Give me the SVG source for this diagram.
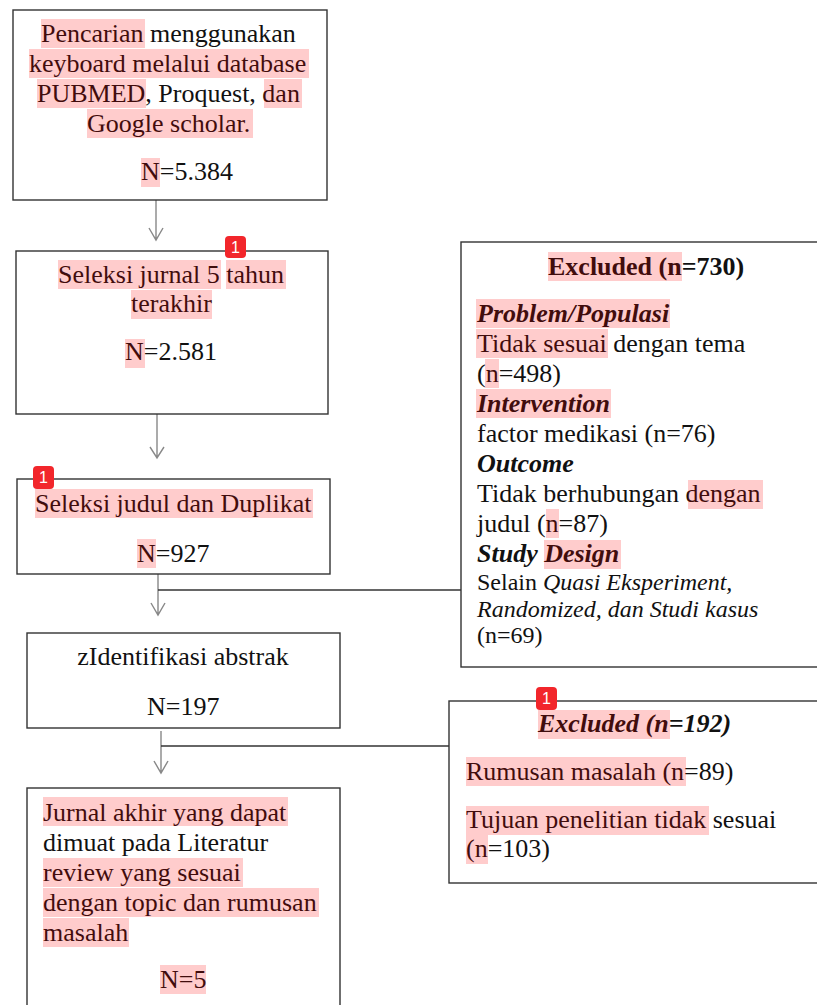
<svg xmlns="http://www.w3.org/2000/svg" width="817" height="1005" viewBox="0 0 817 1005">
<style>
.box{fill:#fff;stroke:#333;stroke-width:1.4}
.t{font-family:"Liberation Serif","Times New Roman",serif;font-size:26px;fill:#111}
.s{font-size:24px}
.b{font-weight:bold}
.i{font-style:italic}
.c{text-anchor:middle}
.hl{fill:#ff0000;fill-opacity:0.2}
.arr{fill:none;stroke:#888;stroke-width:1.4}
.hz{fill:none;stroke:#333;stroke-width:1.4}
.badge{fill:#f2262b}
.bt{font-family:"Liberation Sans",Arial,sans-serif;font-size:16px;fill:#fff;text-anchor:middle}
</style>
<g id="connectors">
<path class="arr" d="M156,200V240M149,228L156,240L163,228"/>
<path class="arr" d="M157,414V458M150,447L157,458L164,447"/>
<path class="arr" d="M158,574V615M151,603L158,615L165,603"/>
<path class="hz" d="M158,590H461"/>
<path class="arr" d="M161,731V773M154,761L161,773L168,761"/>
<path class="hz" d="M161,746H449"/>
</g>
<g id="node-search">
<rect class="box" x="13" y="10" width="314" height="190"/>
<text class="t" x="41" y="42">Pencarian menggunakan</text>
<text class="t" x="29" y="72">keyboard melalui database</text>
<text class="t" x="37" y="102">PUBMED, Proquest, dan</text>
<text class="t" x="87" y="132">Google scholar.</text>
<text class="t" x="141" y="180">N=5.384</text>
<rect class="hl" x="41" y="19" width="104" height="29"/>
<rect class="hl" x="29" y="49" width="280" height="29"/>
<rect class="hl" x="37" y="79" width="109" height="29"/>
<rect class="hl" x="264" y="79" width="38" height="29"/>
<rect class="hl" x="87" y="109" width="166" height="29"/>
<rect class="hl" x="141" y="158" width="19" height="29"/>
</g>
<g id="node-year">
<rect class="box" x="16" y="251" width="312" height="163"/>
<text class="t" x="58" y="283">Seleksi jurnal 5 tahun</text>
<text class="t" x="131" y="312">terakhir</text>
<text class="t" x="125" y="360">N=2.581</text>
<rect class="hl" x="58" y="260" width="163" height="29"/>
<rect class="hl" x="226" y="260" width="60" height="29"/>
<rect class="hl" x="131" y="290" width="81" height="29"/>
<rect class="hl" x="125" y="339" width="20" height="29"/>
<rect class="badge" x="225" y="236" width="21" height="22" rx="4"/>
<text class="bt" x="235.5" y="253">1</text>
</g>
<g id="node-title">
<rect class="box" x="17" y="479" width="313" height="95"/>
<text class="t" x="35" y="512">Seleksi judul dan Duplikat</text>
<text class="t" x="137" y="562">N=927</text>
<rect class="hl" x="35" y="489" width="278" height="29"/>
<rect class="hl" x="137" y="539" width="19" height="29"/>
<rect class="badge" x="33" y="466" width="21" height="23" rx="4"/>
<text class="bt" x="43.5" y="483">1</text>
</g>
<g id="node-abstract">
<rect class="box" x="27" y="633" width="313" height="95"/>
<text class="t c" x="183" y="665">zIdentifikasi abstrak</text>
<text class="t" x="147" y="715">N=197</text>
</g>
<g id="node-final">
<rect class="box" x="27" y="788" width="313" height="230"/>
<text class="t" x="43" y="821">Jurnal akhir yang dapat</text>
<text class="t" x="43" y="851">dimuat pada Literatur</text>
<text class="t" x="43" y="881">review yang sesuai</text>
<text class="t" x="43" y="911">dengan topic dan rumusan</text>
<text class="t" x="43" y="941">masalah</text>
<text class="t" x="160" y="988">N=5</text>
<rect class="hl" x="43" y="797" width="245" height="29"/>
<rect class="hl" x="43" y="858" width="200" height="29"/>
<rect class="hl" x="43" y="888" width="276" height="29"/>
<rect class="hl" x="43" y="918" width="86" height="29"/>
<rect class="hl" x="160" y="965" width="46" height="29"/>
</g>
<g id="node-excluded-730">
<rect class="box" x="461" y="242" width="370" height="425"/>
<text class="t b" x="548" y="275">Excluded (n=730)</text>
<text class="t b i" x="477" y="322">Problem/Populasi</text>
<text class="t" x="477" y="352">Tidak sesuai dengan tema</text>
<text class="t" x="477" y="382">(n=498)</text>
<text class="t b i" x="477" y="412">Intervention</text>
<text class="t" x="477" y="442">factor medikasi (n=76)</text>
<text class="t b i" x="477" y="472">Outcome</text>
<text class="t" x="477" y="502">Tidak berhubungan dengan</text>
<text class="t" x="477" y="532">judul (n=87)</text>
<text class="t b i" x="477" y="562">Study Design</text>
<text class="t s" x="477" y="590">Selain <tspan class="i">Quasi Eksperiment,</tspan></text>
<text class="t s i" x="477" y="617">Randomized, dan Studi kasus</text>
<text class="t s" x="477" y="643">(n=69)</text>
<rect class="hl" x="548" y="252" width="134" height="29"/>
<rect class="hl" x="476" y="299" width="194" height="29"/>
<rect class="hl" x="476" y="329" width="132" height="29"/>
<rect class="hl" x="485" y="359" width="14" height="29"/>
<rect class="hl" x="476" y="389" width="135" height="29"/>
<rect class="hl" x="688" y="480" width="75" height="29"/>
<rect class="hl" x="546" y="509" width="13" height="29"/>
<rect class="hl" x="544" y="540" width="77" height="29"/>
</g>
<g id="node-excluded-192">
<rect class="box" x="449" y="701" width="380" height="182"/>
<text class="t b i" x="538" y="732">Excluded (n=192)</text>
<text class="t" x="466" y="780">Rumusan masalah (n=89)</text>
<text class="t" x="466" y="828">Tujuan penelitian tidak sesuai</text>
<text class="t" x="466" y="857">(n=103)</text>
<rect class="hl" x="538" y="710" width="132" height="29"/>
<rect class="hl" x="466" y="757" width="220" height="29"/>
<rect class="hl" x="466" y="806" width="243" height="29"/>
<rect class="hl" x="466" y="835" width="22" height="29"/>
<rect class="badge" x="536" y="687" width="21" height="23" rx="4"/>
<text class="bt" x="546.5" y="704">1</text>
</g>
</svg>
